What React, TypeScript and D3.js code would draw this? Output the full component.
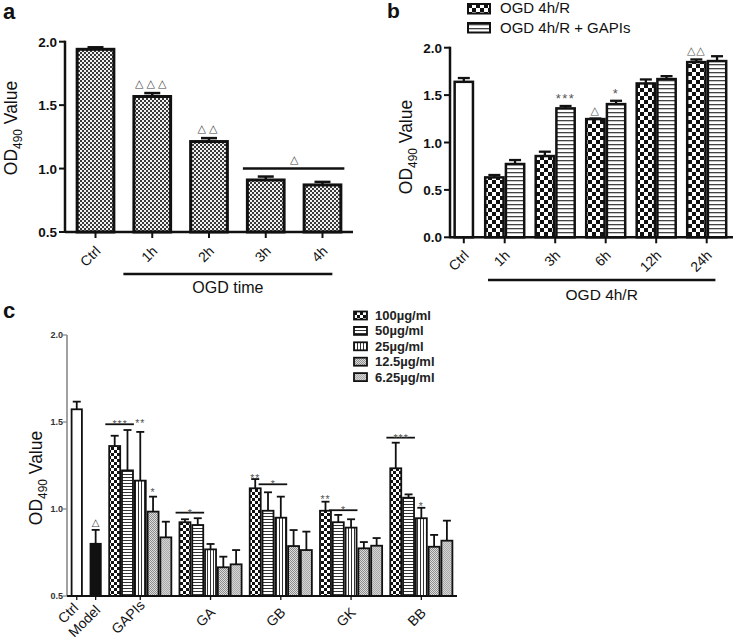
import React from "react";
import * as d3 from "d3";

const FONT = "'Liberation Sans', Arial, Helvetica, sans-serif";

// ---------- Panel a ----------
const aCategories = ["Ctrl", "1h", "2h", "3h", "4h"];
const aValues = [1.94, 1.568, 1.213, 0.91, 0.871];
const aErrors = [0.016, 0.027, 0.027, 0.027, 0.024];
const aMarks = ["", "△△△", "△△", "", ""];
const aTicks = [0.5, 1.0, 1.5, 2.0];
const aBracket = { from: "3h", to: "4h", level: 1.0, label: "△" };
const aGroupLabel = "OGD time";

// ---------- Panel b ----------
const bCategories = ["1h", "3h", "6h", "12h", "24h"];
const bSeries = ["OGD 4h/R", "OGD 4h/R + GAPIs"];
const bCtrlLabel = "Ctrl";
const bCtrlValue = 1.64;
const bCtrlError = 0.04;
const bOGD = [0.632, 0.857, 1.247, 1.623, 1.848];
const bOGDErr = [0.025, 0.046, 0.006, 0.042, 0.028];
const bGAPIs = [0.773, 1.36, 1.405, 1.669, 1.859];
const bGAPIsErr = [0.042, 0.025, 0.035, 0.031, 0.051];
const bOGDMarks = ["", "", "△", "", "△△"];
const bGAPIsMarks = ["", "***", "*", "", ""];
const bTicks = [0, 0.5, 1.0, 1.5, 2.0];
const bGroupLabel = "OGD 4h/R";

// ---------- Panel c ----------
const cSingles = ["Ctrl", "Model"];
const cSingleValues = [1.573, 0.8];
const cSingleErrors = [0.044, 0.08];
const cSingleMarks = ["", "△"];
const cGroups = ["GAPIs", "GA", "GB", "GK", "BB"];
const cConcs = ["100µg/ml", "50µg/ml", "25µg/ml", "12.5µg/ml", "6.25µg/ml"];
const c100 = [1.362, 0.924, 1.119, 0.99, 1.234];
const c100Err = [0.059, 0.017, 0.053, 0.052, 0.147];
const c50 = [1.222, 0.908, 0.99, 0.924, 1.065];
const c50Err = [0.232, 0.039, 0.106, 0.042, 0.019];
const c25 = [1.163, 0.768, 0.95, 0.893, 0.947];
const c25Err = [0.28, 0.031, 0.121, 0.048, 0.06];
const c12 = [0.985, 0.665, 0.787, 0.774, 0.783];
const c12Err = [0.086, 0.061, 0.092, 0.036, 0.068];
const c6 = [0.837, 0.682, 0.764, 0.789, 0.818];
const c6Err = [0.09, 0.082, 0.106, 0.044, 0.115];
const cTicks = [0.5, 1.0, 1.5, 2.0];
const cLines = [
  { group: "GAPIs", from: 0, to: 1, level: 1.487, label: "***" },
  { group: "GA", from: 0, to: 1, level: 0.979, label: "*" },
  { group: "GB", from: 1, to: 2, level: 1.142, label: "*" },
  { group: "GK", from: 1, to: 2, level: 0.993, label: "*" },
  { group: "BB", from: 0, to: 1, level: 1.41, label: "***" },
];
const cStars = [
  { group: "GAPIs", series: 2, level: 1.492, label: "**" },
  { group: "GAPIs", series: 3, level: 1.099, label: "*" },
  { group: "GB", series: 0, level: 1.178, label: "**" },
  { group: "GK", series: 0, level: 1.057, label: "**" },
  { group: "BB", series: 2, level: 1.017, label: "*" },
];

const cValues = [c100, c50, c25, c12, c6];
const cErrors = [c100Err, c50Err, c25Err, c12Err, c6Err];
const cFills = ["url(#cChecker)", "url(#cHLines)", "url(#cVLines)", "url(#cDot1)", "url(#cDot2)"];

let measureCtx: CanvasRenderingContext2D | null = null;
function textWidth(text: string, size: number): number {
  if (typeof document !== "undefined") {
    if (!measureCtx) measureCtx = document.createElement("canvas").getContext("2d");
    if (measureCtx) {
      measureCtx.font = `${size}px 'Liberation Sans', Arial, sans-serif`;
      return measureCtx.measureText(text).width;
    }
  }
  return text.length * size * 0.6;
}

function Patterns() {
  return (
    <defs>
      <pattern id="aFine" width="4" height="4" patternUnits="userSpaceOnUse">
        <rect width="4" height="4" fill="#f2f2f2" />
        <rect width="2" height="2" fill="#3a3a3a" />
        <rect x="2" y="2" width="2" height="2" fill="#3a3a3a" />
      </pattern>
      <pattern id="bChecker" width="8" height="8" patternUnits="userSpaceOnUse">
        <rect width="8" height="8" fill="#fff" />
        <rect width="4" height="4" fill="#111" />
        <rect x="4" y="4" width="4" height="4" fill="#111" />
      </pattern>
      <pattern id="bHLines" width="4" height="4" patternUnits="userSpaceOnUse">
        <rect width="4" height="4" fill="#fff" />
        <rect width="4" height="1.3" fill="#444" />
      </pattern>
      <pattern id="cChecker" width="6" height="6" patternUnits="userSpaceOnUse">
        <rect width="6" height="6" fill="#fff" />
        <rect width="3" height="3" fill="#111" />
        <rect x="3" y="3" width="3" height="3" fill="#111" />
      </pattern>
      <pattern id="cHLines" width="3" height="3" patternUnits="userSpaceOnUse">
        <rect width="3" height="3" fill="#fff" />
        <rect width="3" height="1" fill="#333" />
      </pattern>
      <pattern id="cVLines" width="3" height="3" patternUnits="userSpaceOnUse">
        <rect width="3" height="3" fill="#fff" />
        <rect width="1" height="3" fill="#333" />
      </pattern>
      <pattern id="cDot1" width="2" height="2" patternUnits="userSpaceOnUse">
        <rect width="2" height="2" fill="#dedede" />
        <rect width="1" height="1" fill="#8c8c8c" />
        <rect x="1" y="1" width="1" height="1" fill="#8c8c8c" />
      </pattern>
      <pattern id="cDot2" width="2" height="2" patternUnits="userSpaceOnUse">
        <rect width="2" height="2" fill="#d4d4d4" />
        <rect width="1" height="1" fill="#aaaaaa" />
        <rect x="1" y="1" width="1" height="1" fill="#aaaaaa" />
      </pattern>
    </defs>
  );
}

function YLabel({ x, y, size }: { x: number; y: number; size: number }) {
  return (
    <text
      transform={`translate(${x},${y}) rotate(-90)`}
      textAnchor="middle"
      fontFamily={FONT}
      fontSize={size}
      fill="#111"
    >
      OD
      <tspan fontSize={size * 0.68} dy={size * 0.28}>490</tspan>
      <tspan dy={-size * 0.28}> Value</tspan>
    </text>
  );
}

function ErrBar({ cx, y0, y1, hw, sw }: { cx: number; y0: number; y1: number; hw: number; sw: number }) {
  return (
    <g stroke="#111" strokeWidth={sw}>
      <line x1={cx} x2={cx} y1={y0} y2={y1} />
      <line x1={cx - hw} x2={cx + hw} y1={y1} y2={y1} />
    </g>
  );
}

function RotLabel({ x, y, text, size }: { x: number; y: number; text: string; size: number }) {
  return (
    <text
      transform={`translate(${x},${y}) rotate(-45)`}
      textAnchor="end"
      fontFamily={FONT}
      fontSize={size}
      fill="#111"
    >
      {text}
    </text>
  );
}

function PanelA() {
  const y = d3.scaleLinear().domain([0.5, 2.0]).range([232, 41.7]);
  const x = d3.scaleBand().domain(aCategories).range([66, 352]).paddingInner(0.3).paddingOuter(0.17);
  const bw = x.bandwidth();
  const axisY = y(0.5);
  const x0 = 65;
  const bx0 = x(aBracket.from)!;
  const bx1 = x(aBracket.to)! + bw;
  return (
    <g>
      <text x={3} y={19} fontFamily={FONT} fontWeight="bold" fontSize={22} fill="#111">a</text>
      {aCategories.map((c, i) => {
        const cx = x(c)! + bw / 2;
        const top = y(aValues[i]);
        const cap = y(aValues[i] + aErrors[i]);
        return (
          <g key={c}>
            <ErrBar cx={cx} y0={top} y1={cap} hw={8} sw={2.5} />
            <rect x={x(c)! + 1.5} y={top} width={bw - 3} height={axisY - top} fill="url(#aFine)" stroke="#111" strokeWidth={3} />
            {aMarks[i] && (
              <text x={cx} y={cap - 6} textAnchor="middle" fontFamily="DejaVu Sans" fontSize={11} letterSpacing={3} fill="#444">
                {aMarks[i]}
              </text>
            )}
          </g>
        );
      })}
      <line x1={bx0 - 3} x2={bx1 + 2} y1={y(aBracket.level)} y2={y(aBracket.level)} stroke="#111" strokeWidth={2.5} />
      <text x={(bx0 + bx1) / 2} y={y(aBracket.level) - 6} textAnchor="middle" fontFamily="DejaVu Sans" fontSize={11} fill="#444">
        {aBracket.label}
      </text>
      <line x1={x0} x2={x0} y1={y(2.0) - 1} y2={axisY + 1} stroke="#111" strokeWidth={2.5} />
      <line x1={x0} x2={353} y1={axisY} y2={axisY} stroke="#111" strokeWidth={2.5} />
      {aTicks.map((t) => (
        <g key={t}>
          <line x1={x0 - 6} x2={x0} y1={y(t)} y2={y(t)} stroke="#111" strokeWidth={2} />
          <text x={x0 - 8} y={y(t) + 5} textAnchor="end" fontFamily={FONT} fontWeight="bold" fontSize={13.5} fill="#111">
            {t.toFixed(1)}
          </text>
        </g>
      ))}
      {aCategories.map((c) => {
        const cx = x(c)! + bw / 2;
        return (
          <g key={c}>
            <line x1={cx} x2={cx} y1={axisY} y2={axisY + 6} stroke="#111" strokeWidth={2} />
            <RotLabel x={cx + 6} y={axisY + 20} text={c} size={14} />
          </g>
        );
      })}
      <line x1={x("1h")! - 9} x2={x("4h")! + bw - 10} y1={274} y2={274} stroke="#111" strokeWidth={2.5} />
      <text x={(x("1h")! - 9 + x("4h")! + bw - 10) / 2} y={293} textAnchor="middle" fontFamily={FONT} fontSize={16} fill="#111">
        {aGroupLabel}
      </text>
      <YLabel x={17} y={128} size={17.5} />
    </g>
  );
}

function PanelB() {
  const y = d3.scaleLinear().domain([0, 2.0]).range([237.3, 47.7]);
  const x = d3.scaleBand().domain(bCategories).range([484, 727.4]).paddingInner(0.18);
  const xs = d3.scaleBand<number>().domain([0, 1]).range([0, x.bandwidth()]);
  const sw = xs.bandwidth();
  const axisY = y(0);
  const x0 = 450;
  const ctrlCx = x(bCategories[0])! + x.bandwidth() / 2 - 0.81 * x.step();
  const series = [
    { vals: bOGD, errs: bOGDErr, marks: bOGDMarks, fill: "url(#bChecker)" },
    { vals: bGAPIs, errs: bGAPIsErr, marks: bGAPIsMarks, fill: "url(#bHLines)" },
  ];
  const ctrlTop = y(bCtrlValue);
  const lineX0 = x(bCategories[0])! + 4;
  const lineX1 = x(bCategories[4])! + x.bandwidth() - 12;
  return (
    <g>
      <text x={387} y={18} fontFamily={FONT} fontWeight="bold" fontSize={21} fill="#111">b</text>
      {bSeries.map((s, i) => (
        <g key={s}>
          <rect x={468} y={4 + i * 19} width={22} height={9.5} fill={series[i].fill} stroke="#111" strokeWidth={2} />
          <text x={500} y={13 + i * 20} fontFamily={FONT} fontSize={15} fill="#111">{s}</text>
        </g>
      ))}
      <ErrBar cx={ctrlCx} y0={ctrlTop} y1={y(bCtrlValue + bCtrlError)} hw={6} sw={2.3} />
      <rect x={ctrlCx - sw / 2 + 1.2} y={ctrlTop} width={sw - 2.4} height={axisY - ctrlTop} fill="#fff" stroke="#111" strokeWidth={2.5} />
      {bCategories.map((c, i) => (
        <g key={c}>
          {series.map((s, j) => {
            const bx = x(c)! + xs(j)!;
            const cx = bx + sw / 2;
            const top = y(s.vals[i]);
            const cap = y(s.vals[i] + s.errs[i]);
            const star = s.marks[i].includes("*");
            return (
              <g key={j}>
                <ErrBar cx={cx} y0={top} y1={cap} hw={6} sw={2.3} />
                <rect x={bx + 1.2} y={top} width={sw - 2.4} height={axisY - top} fill={s.fill} stroke="#111" strokeWidth={2.5} />
                {s.marks[i] && (
                  <text
                    x={cx}
                    y={star ? cap - 3 : cap - 5}
                    textAnchor="middle"
                    fontFamily={star ? FONT : "DejaVu Sans"}
                    fontSize={star ? 13 : 11}
                    letterSpacing={star ? 1.5 : 1}
                    fill="#555"
                  >
                    {s.marks[i]}
                  </text>
                )}
              </g>
            );
          })}
        </g>
      ))}
      <line x1={x0} x2={x0} y1={y(2.0) - 1} y2={axisY + 1} stroke="#111" strokeWidth={2.5} />
      <line x1={x0} x2={733} y1={axisY} y2={axisY} stroke="#111" strokeWidth={2.5} />
      {bTicks.map((t) => (
        <g key={t}>
          <line x1={x0 - 6} x2={x0} y1={y(t)} y2={y(t)} stroke="#111" strokeWidth={2} />
          <text x={x0 - 8} y={y(t) + 5} textAnchor="end" fontFamily={FONT} fontWeight="bold" fontSize={13.5} fill="#111">
            {t.toFixed(1)}
          </text>
        </g>
      ))}
      {[bCtrlLabel, ...bCategories].map((c, i) => {
        const cx = i === 0 ? ctrlCx : x(c)! + x.bandwidth() / 2;
        return (
          <g key={c}>
            <line x1={cx} x2={cx} y1={axisY} y2={axisY + 6} stroke="#111" strokeWidth={2} />
            <RotLabel x={cx + 6} y={axisY + 19} text={c} size={14} />
          </g>
        );
      })}
      <line x1={lineX0} x2={lineX1} y1={280} y2={280} stroke="#111" strokeWidth={2.5} />
      <text x={(lineX0 + lineX1) / 2} y={300} textAnchor="middle" fontFamily={FONT} fontSize={15.5} fill="#111">
        {bGroupLabel}
      </text>
      <YLabel x={412} y={147} size={17.5} />
    </g>
  );
}

// vertical nudge of the two stacked single-bar labels (Ctrl above Model)
const SINGLE_LABEL_DY = [-4, 4];

function PanelC() {
  const y = d3.scaleLinear().domain([0.5, 2.0]).range([596, 335]);
  const xSingle = d3.scaleBand().domain(cSingles).range([70.7, 101.7]).paddingInner(0.36);
  const x = d3.scaleBand().domain(cGroups).range([108.3, 453.3]).paddingInner(0.09);
  const xs = d3.scaleBand<number>().domain(d3.range(cConcs.length)).range([0, x.bandwidth()]);
  const sw = xs.bandwidth();
  const axisY = y(0.5);
  const x0 = 67;
  const singleFills = ["#fff", "#111"];
  const labelSize = 14;
  return (
    <g>
      <text x={3} y={318} fontFamily={FONT} fontWeight="bold" fontSize={22} fill="#111">c</text>
      {cConcs.map((s, i) => (
        <g key={s}>
          <rect x={354} y={311.5 + i * 15.4} width={13} height={8} fill={cFills[i]} stroke="#111" strokeWidth={1.8} />
          <text x={375} y={320 + i * 15.4} fontFamily={FONT} fontWeight="bold" fontSize={13} fill="#222">{s}</text>
        </g>
      ))}
      {cSingles.map((c, i) => {
        const bx = xSingle(c)!;
        const bw = xSingle.bandwidth();
        const top = y(cSingleValues[i]);
        const cap = y(cSingleValues[i] + cSingleErrors[i]);
        return (
          <g key={c}>
            <ErrBar cx={bx + bw / 2} y0={top} y1={cap} hw={4} sw={1.8} />
            <rect x={bx + 0.9} y={top} width={bw - 1.8} height={axisY - top} fill={singleFills[i]} stroke="#111" strokeWidth={1.8} />
            {cSingleMarks[i] && (
              <text x={bx + bw / 2} y={cap - 4} textAnchor="middle" fontFamily="DejaVu Sans" fontSize={10} fill="#444">
                {cSingleMarks[i]}
              </text>
            )}
          </g>
        );
      })}
      {cGroups.map((g, gi) => (
        <g key={g}>
          {cConcs.map((_, j) => {
            const bx = x(g)! + xs(j)!;
            const top = y(cValues[j][gi]);
            const cap = y(cValues[j][gi] + cErrors[j][gi]);
            return (
              <g key={j}>
                <ErrBar cx={bx + sw / 2} y0={top} y1={cap} hw={4} sw={1.8} />
                <rect x={bx + 0.9} y={top} width={sw - 1.8} height={axisY - top} fill={cFills[j]} stroke="#111" strokeWidth={1.8} />
              </g>
            );
          })}
        </g>
      ))}
      {cLines.map((l, i) => {
        const a = x(l.group)! + xs(l.from)!;
        const b = x(l.group)! + xs(l.to)! + sw;
        const ly = y(l.level);
        return (
          <g key={i}>
            <line x1={a - 3} x2={b} y1={ly} y2={ly} stroke="#111" strokeWidth={1.8} />
            <text x={(a + b) / 2 - 1} y={ly + 4} textAnchor="middle" fontFamily={FONT} fontSize={10.5} letterSpacing={1} fill="#555">
              {l.label}
            </text>
          </g>
        );
      })}
      {cStars.map((s, i) => (
        <text
          key={i}
          x={x(s.group)! + xs(s.series)! + sw / 2}
          y={y(s.level) + 4}
          textAnchor="middle"
          fontFamily={FONT}
          fontSize={10.5}
          letterSpacing={1}
          fill="#555"
        >
          {s.label}
        </text>
      ))}
      <line x1={x0} x2={x0} y1={y(2.0)} y2={axisY} stroke="#8a8a8a" strokeWidth={1.6} />
      <line x1={x0} x2={457} y1={axisY} y2={axisY} stroke="#111" strokeWidth={1.8} />
      {cTicks.map((t) => (
        <g key={t}>
          <line x1={x0 - 4} x2={x0} y1={y(t)} y2={y(t)} stroke="#8a8a8a" strokeWidth={1.3} />
          <text x={x0 - 4} y={y(t) + 3} textAnchor="end" fontFamily={FONT} fontWeight="bold" fontSize={9} fill="#333">
            {t.toFixed(1)}
          </text>
        </g>
      ))}
      {[...cSingles, ...cGroups].map((c, i) => {
        const single = i < cSingles.length;
        const cx = single ? xSingle(c)! + xSingle.bandwidth() / 2 : x(c)! + x.bandwidth() / 2;
        const L = textWidth(c, labelSize);
        const mx = cx + 2 - L / (2 * Math.SQRT2) + (single && i === 0 ? -3 : 0);
        const my = axisY + 21 + (single ? SINGLE_LABEL_DY[i] : 0);
        return (
          <g key={c}>
            <line x1={cx} x2={cx} y1={axisY} y2={axisY + 4} stroke="#111" strokeWidth={1.3} />
            <text
              transform={`translate(${mx},${my}) rotate(-45)`}
              textAnchor="middle"
              dy="0.35em"
              fontFamily={FONT}
              fontSize={labelSize}
              fill="#111"
            >
              {c}
            </text>
          </g>
        );
      })}
      <YLabel x={42} y={478} size={17.5} />
    </g>
  );
}

export default function App() {
  return (
    <div style={{ position: "absolute", left: 0, top: 0 }}>
      <svg width={734} height={642} viewBox="0 0 734 642" style={{ display: "block", background: "#fff" }}>
        <Patterns />
        <PanelA />
        <PanelB />
        <PanelC />
      </svg>
    </div>
  );
}
